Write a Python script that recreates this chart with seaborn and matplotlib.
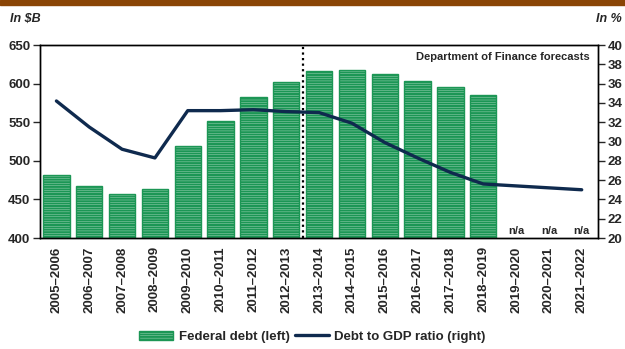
import numpy as np
import pandas as pd
import seaborn as sns
import matplotlib
matplotlib.use('Agg')
import matplotlib.pyplot as plt
from matplotlib.patches import Rectangle, Patch
from matplotlib.lines import Line2D

# 데이터
years = ['2005\u20132006', '2006\u20132007', '2007\u20132008', '2008\u20132009', '2009\u20132010',
         '2010\u20132011', '2011\u20132012', '2012\u20132013', '2013\u20132014', '2014\u20132015',
         '2015\u20132016', '2016\u20132017', '2017\u20132018', '2018\u20132019', '2019\u20132020',
         '2020\u20132021', '2021\u20132022']
federal_debt = [481, 467, 457, 464, 519, 551, 583, 602, 616, 618, 612, 604, 596, 585,
                np.nan, np.nan, np.nan]
debt_to_gdp = [34.2, 31.5, 29.2, 28.3, 33.2, 33.2, 33.3, 33.1, 33.0, 31.9, 29.9, 28.3,
               26.8, 25.6, 25.4, 25.2, 25.0]

sns.set_style('white')
plt.rcParams['font.family'] = ['Liberation Sans', 'DejaVu Sans']
plt.rcParams['font.weight'] = 'bold'
plt.rcParams['hatch.linewidth'] = 1.5

green = '#1c9655'
navy = '#0f2a4e'

df = pd.DataFrame({'year': years, 'debt': federal_debt, 'ratio': debt_to_gdp})

fig = plt.figure(figsize=(6.25, 3.49), dpi=100)
# 상단 갈색 띠
fig.patches.append(Rectangle((0, 0.985), 1, 0.015, transform=fig.transFigure,
                             color='#8a4506', zorder=0))
ax = fig.add_axes([0.064, 0.318, 0.893, 0.553])

sns.barplot(data=df, x='year', y='debt', ax=ax, color='#f4fbf6', edgecolor=green,
            hatch='-------', linewidth=1.0, width=0.8, saturation=1)
ax.set_ylim(400, 650)
ax.set_yticks(np.arange(400, 651, 50))
ax.set_xlabel('')
ax.set_ylabel('')
ax.tick_params(axis='y', which='both', direction='out', length=5, width=1, left=True,
               labelsize=9.5, pad=2)
ax.tick_params(axis='x', length=0, labelsize=9.5, pad=6)
for lbl in ax.get_xticklabels():
    lbl.set_rotation(90)
    lbl.set_fontweight('bold')
for lbl in ax.get_yticklabels():
    lbl.set_fontweight('bold')

ax2 = ax.twinx()
sns.lineplot(x=np.arange(len(years)), y=df['ratio'], ax=ax2, color=navy, linewidth=2.4)
ax2.set_ylim(20, 40)
ax2.set_yticks(np.arange(20, 41, 2))
ax2.set_ylabel('')
ax2.tick_params(axis='y', direction='out', length=5, width=1, right=True, labelsize=9.5, pad=2)
for lbl in ax2.get_yticklabels():
    lbl.set_fontweight('bold')
ax.set_xlim(-0.5, len(years) - 0.5)

for a in (ax, ax2):
    for s in a.spines.values():
        s.set_color('black')
        s.set_linewidth(1.0)

# 예측 구분선
ax.axvline(7.5, color='black', linestyle=(0, (1, 1.5)), linewidth=1.6)
ax.text(0.985, 0.94, 'Department of Finance forecasts', transform=ax.transAxes,
        ha='right', va='center', fontsize=8, fontweight='bold')
for i, v in enumerate(federal_debt):
    if np.isnan(v):
        ax.text(i, 402, 'n/a', ha='center', va='bottom', fontsize=8, fontweight='bold')

fig.text(0.016, 0.945, 'In $B', ha='left', va='center', fontsize=9,
         fontweight='bold', style='italic')
fig.text(0.995, 0.945, 'In %', ha='right', va='center', fontsize=9,
         fontweight='bold', style='italic')

handles = [Patch(facecolor='#f4fbf6', edgecolor=green, hatch='-------', linewidth=1.0),
           Line2D([0], [0], color=navy, linewidth=2.4)]
fig.legend(handles, ['Federal debt (left)', 'Debt to GDP ratio (right)'],
           loc='center', bbox_to_anchor=(0.5, 0.035), ncol=2, frameon=False,
           prop={'weight': 'bold', 'size': 9.5}, handlelength=2.6,
           columnspacing=0.4, handletextpad=0.4)

fig.savefig('out.png', dpi=100)
